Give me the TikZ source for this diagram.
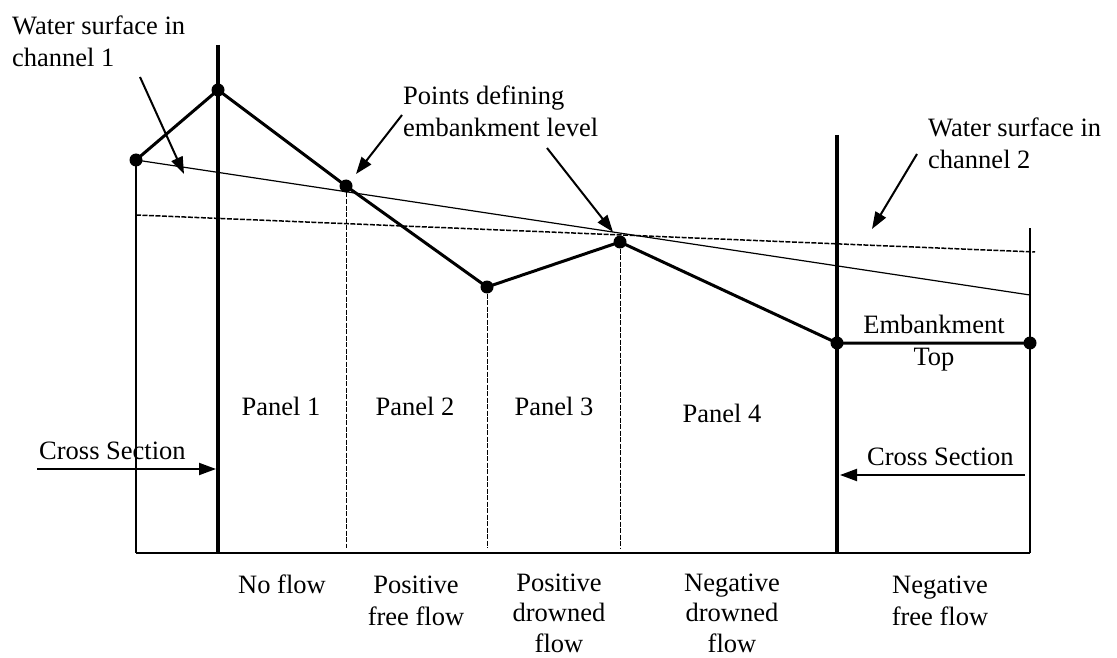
\documentclass[tikz,border=0pt]{standalone}
\usepackage{fontspec}
\setmainfont{Liberation Serif}
\usetikzlibrary{arrows.meta}
\begin{document}
\begin{tikzpicture}[x=1pt,y=-1pt,
  dot/.style={circle,fill=black,inner sep=0pt,minimum size=13pt},
  lbl/.style={font=\fontsize{26.5}{32}\selectfont,inner sep=0pt},
  lbltight/.style={font=\fontsize{26.5}{30.5}\selectfont,inner sep=0pt},
  thickbar/.style={line width=4pt},
  embank/.style={line width=3pt,line join=round},
  thinbar/.style={line width=2pt},
  baseline/.style={line width=2.5pt},
  water/.style={line width=1.2pt},
  waterdash/.style={line width=1.5pt,dash pattern=on 5pt off 1.5pt},
  paneldash/.style={line width=1pt,dash pattern=on 5pt off 1.5pt},
  pointer/.style={line width=2pt,-{Triangle[length=17pt,width=12pt]}}
]
\useasboundingbox (0,0) rectangle (1117,658);

% bottom corners and bar ends
\coordinate (bl) at (136,553);
\coordinate (br) at (1030,553);
\coordinate (t1) at (218,45);
\coordinate (b1) at (218,553);
\coordinate (t2) at (837,135);
\coordinate (b2) at (837,553);
\coordinate (tr) at (1030,228);
\coordinate (d2) at (346,548);
\coordinate (d3) at (487,548);
\coordinate (d4) at (620,548);
\coordinate (w1s) at (136,160);
\coordinate (w1e) at (1030,295);
\coordinate (w2s) at (136,215);
\coordinate (w2e) at (1035,252);

% embankment points
\node[dot] (p0) at (136,160) {};
\node[dot] (p1) at (218,90) {};
\node[dot] (p2) at (346,186) {};
\node[dot] (p3) at (487,287) {};
\node[dot] (p4) at (620,242) {};
\node[dot] (p5) at (837,343) {};
\node[dot] (p6) at (1030,343) {};

% frame
\draw[thinbar] (p0.center) -- (bl);
\draw[baseline] (bl) -- (br);
\draw[thinbar] (tr) -- (br);
\draw[thickbar] (t1) -- (b1);
\draw[thickbar] (t2) -- (b2);

% panel dividers
\draw[paneldash] (p2.center) -- (d2);
\draw[paneldash] (p3.center) -- (d3);
\draw[paneldash] (p4.center) -- (d4);

% water surfaces
\draw[water] (w1s) -- (w1e);
\draw[waterdash] (w2s) -- (w2e);

% embankment
\draw[embank] (p0.center) -- (p1.center) -- (p2.center) -- (p3.center) -- (p4.center) -- (p5.center) -- (p6.center);

% labels (base anchor = baseline of the last line)
\node[lbl,anchor=base west,align=left] (ws1) at (12,67) {Water surface in\\channel 1};
\node[lbl,anchor=base west,align=left] (pd) at (403,137) {Points defining\\embankment level};
\node[lbl,anchor=base west,align=left] (ws2) at (928,168) {Water surface in\\channel 2};
\node[lbl,anchor=base,align=center] (et) at (934,365) {Embankment\\Top};
\node[lbl,anchor=base] (pn1) at (281,415) {Panel 1};
\node[lbl,anchor=base] (pn2) at (415,415) {Panel 2};
\node[lbl,anchor=base] (pn3) at (554,415) {Panel 3};
\node[lbl,anchor=base] (pn4) at (722,422) {Panel 4};
\node[lbl,anchor=base west] (cs1) at (39,459) {Cross Section};
\node[lbl,anchor=base west] (cs2) at (867,465) {Cross Section};
\node[lbl,anchor=base] (f1) at (282,593) {No flow};
\node[lbl,anchor=base,align=center] (f2) at (416,625) {Positive\\free flow};
\node[lbltight,anchor=base,align=center] (f3) at (559,652) {Positive\\drowned\\flow};
\node[lbltight,anchor=base,align=center] (f4) at (732,652) {Negative\\drowned\\flow};
\node[lbl,anchor=base,align=center] (f5) at (940,625) {Negative\\free flow};

% pointer arrows
\coordinate (a1s) at (140,77);
\coordinate (a1e) at (184,174);
\coordinate (a2s) at (402,115);
\coordinate (a2e) at (356,174);
\coordinate (a3s) at (547,148);
\coordinate (a3e) at (613,232);
\coordinate (a4s) at (917,154);
\coordinate (a4e) at (872,229);
\coordinate (a5s) at (37,469);
\coordinate (a5e) at (216,469);
\coordinate (a6s) at (1025,475);
\coordinate (a6e) at (840,475);
\draw[pointer] (a1s) -- (a1e);
\draw[pointer] (a2s) -- (a2e);
\draw[pointer] (a3s) -- (a3e);
\draw[pointer] (a4s) -- (a4e);
\draw[pointer] (a5s) -- (a5e);
\draw[pointer] (a6s) -- (a6e);
\end{tikzpicture}
\end{document}
